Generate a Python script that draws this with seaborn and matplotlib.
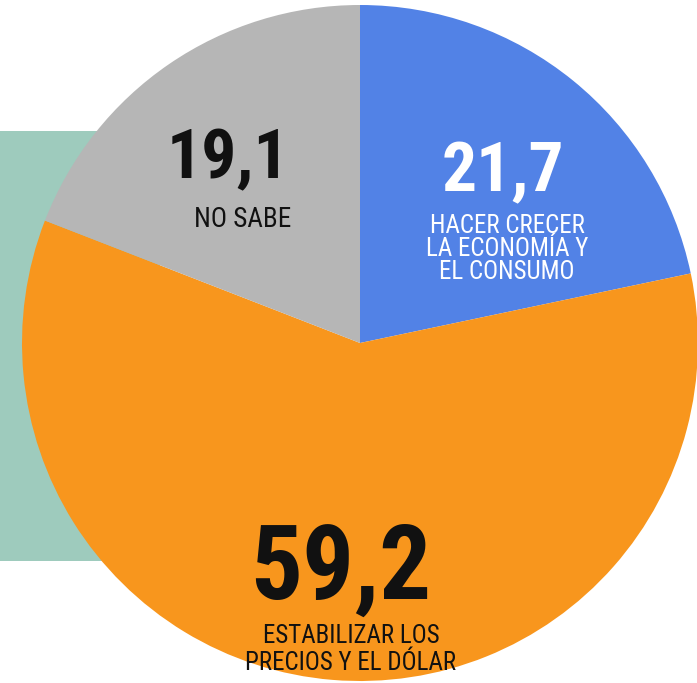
import matplotlib
matplotlib.use("Agg")
import matplotlib.pyplot as plt
from matplotlib.patches import Rectangle
import seaborn as sns

# data
categories = ["HACER CRECER\nLA ECONOMÍA Y\nEL CONSUMO",
              "ESTABILIZAR LOS\nPRECIOS Y EL DÓLAR",
              "NO SABE"]
values = [21.7, 59.2, 19.1]
value_labels = ["21,7", "59,2", "19,1"]
colors = ["#5282e6", "#f8961d", "#b6b6b6"]

sns.set_theme(style="white")
plt.rcParams['font.family'] = ['Roboto Condensed', 'DejaVu Sans']
plt.rcParams['font.stretch'] = 'condensed'

W, H = 697, 683
fig = plt.figure(figsize=(W / 100, H / 100), dpi=100)
ax = fig.add_axes([0, 0, 1, 1])

# teal block behind the pie
ax.add_patch(Rectangle((0, 131), 160, 430, facecolor="#9ecbbd", edgecolor="none", zorder=0))

# y axis inverted (pixel coords), so startangle -90 = top and counterclock goes clockwise on screen
ax.pie(values, colors=colors, center=(360, 343), radius=338, startangle=-90,
       counterclock=True, wedgeprops=dict(linewidth=0), frame=True)

ax.set_xlim(0, W)
ax.set_ylim(H, 0)
ax.set_aspect("equal")
ax.axis("off")

# big numbers: (x, baseline y, size, colour)
num_pos = [(503, 191, 50, "white"), (341, 599, 74, "#111111"), (228, 178, 50, "#111111")]
# labels: (x, first baseline y, line step, size, colour)
lab_pos = [(507, 233, 23, 18, "white"), (351, 643, 27, 18, "#111111"), (243, 227, 24, 19.5, "#111111")]

for txt, (x, y, s, c) in zip(value_labels, num_pos):
    ax.text(x, y, txt, ha="center", va="baseline", fontsize=s, fontweight="bold",
            fontstretch="condensed", color=c)

for lab, (x, y, step, s, c) in zip(categories, lab_pos):
    for i, line in enumerate(lab.split("\n")):
        ax.text(x, y + i * step, line, ha="center", va="baseline", fontsize=s,
                fontstretch="condensed", color=c)

fig.savefig("out.png", dpi=100)
